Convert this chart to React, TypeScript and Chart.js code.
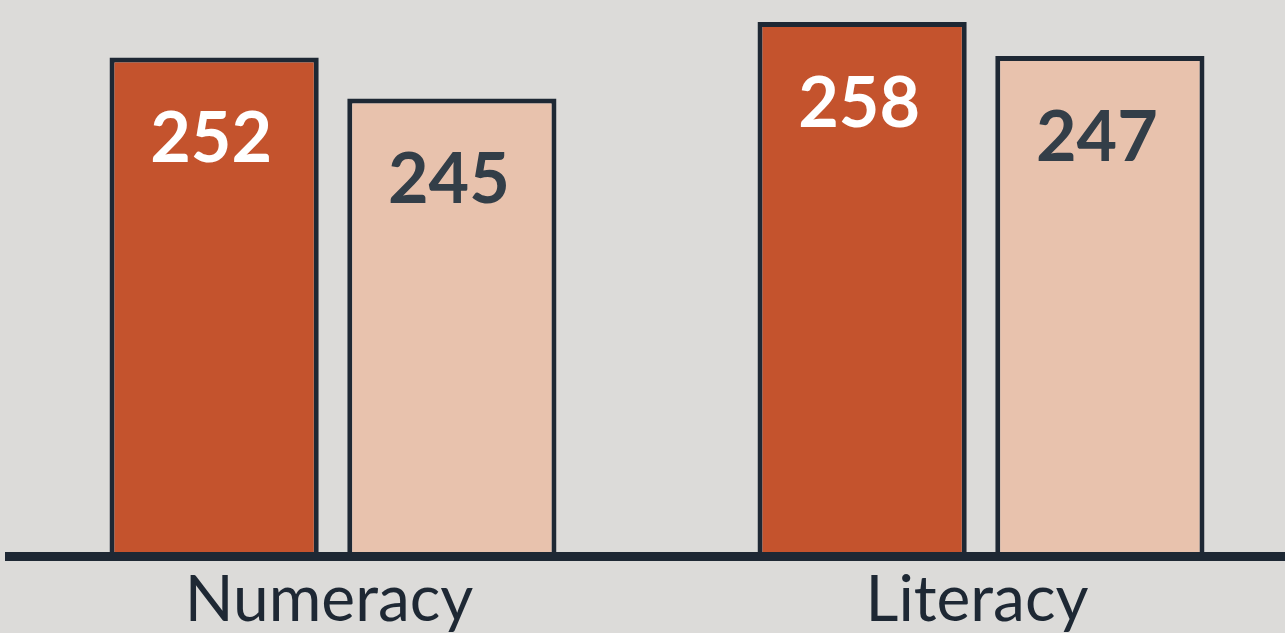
import { useEffect, useRef } from "react";
import { Chart, registerables } from "chart.js";

Chart.register(...registerables);

// ---- data ----
const categories = ["Numeracy", "Literacy"];
const seriesNames = ["Group 1", "Group 2"];
const series1 = [252, 258];
const series2 = [245, 247];

// ---- styles ----
const BG = "#dcdbd9";
const INK = "#1e2834";
const fills = ["#c4532d", "#e8c2ad"];
const labelColors = ["#ffffff", "#333e48"];
const axisIds = ["yNum", "yLit"];
// each category panel has its own value axis range
const axisRanges = [
  { min: 166.96, max: 261.79 },
  { min: 85.43, max: 265.12 },
];

const valueLabels = {
  id: "valueLabels",
  afterDatasetsDraw(chart: any) {
    const ctx = chart.ctx;
    ctx.save();
    ctx.font = "bold 70px Lato";
    ctx.textAlign = "center";
    ctx.textBaseline = "alphabetic";
    chart.data.datasets.forEach((ds: any, di: number) => {
      const meta = chart.getDatasetMeta(di);
      meta.data.forEach((el: any, i: number) => {
        const v = ds.data[i];
        if (v == null) return;
        ctx.fillStyle = labelColors[ds.seriesIndex];
        ctx.fillText(String(v), el.x - 3, el.y + 104.5);
      });
    });
    ctx.restore();
  },
};

export default function App() {
  const ref = useRef<HTMLCanvasElement>(null);

  useEffect(() => {
    if (!ref.current) return;
    const allSeries = [series1, series2];
    const datasets: any[] = [];
    categories.forEach((_, ci) => {
      allSeries.forEach((s, si) => {
        datasets.push({
          label: seriesNames[si],
          seriesIndex: si,
          data: categories.map((_, j) => (j === ci ? s[ci] : null)),
          yAxisID: axisIds[ci],
          backgroundColor: fills[si],
          borderColor: INK,
          borderWidth: 5,
          borderSkipped: "start",
          categoryPercentage: 0.7338,
          barPercentage: 0.88,
        });
      });
    });

    const chart = new Chart(ref.current, {
      type: "bar",
      data: { labels: categories, datasets },
      options: {
        responsive: false,
        animation: false,
        skipNull: true,
        layout: { padding: { left: 9, right: 0, top: 0, bottom: -11 } },
        plugins: {
          legend: { display: false },
          tooltip: { enabled: false },
        },
        scales: {
          x: {
            grid: { display: false, drawTicks: false },
            border: { display: true, color: INK, width: 9, z: 1 },
            ticks: {
              color: INK,
              padding: 10,
              labelOffset: -4,
              font: { family: "Lato", size: 64, weight: "normal", lineHeight: 1.056 },
            },
          },
          yNum: {
            type: "linear",
            display: false,
            position: "left",
            min: axisRanges[0].min,
            max: axisRanges[0].max,
          },
          yLit: {
            type: "linear",
            display: false,
            position: "left",
            min: axisRanges[1].min,
            max: axisRanges[1].max,
          },
        },
      } as any,
      plugins: [valueLabels],
    });
    return () => chart.destroy();
  }, []);

  return (
    <div
      style={{
        position: "fixed",
        left: 0,
        top: 0,
        width: 1285,
        height: 633,
        overflow: "hidden",
        background: BG,
      }}
    >
      <canvas
        ref={ref}
        width={1305}
        height={633}
        style={{ display: "block", width: 1305, height: 633 }}
      />
    </div>
  );
}
